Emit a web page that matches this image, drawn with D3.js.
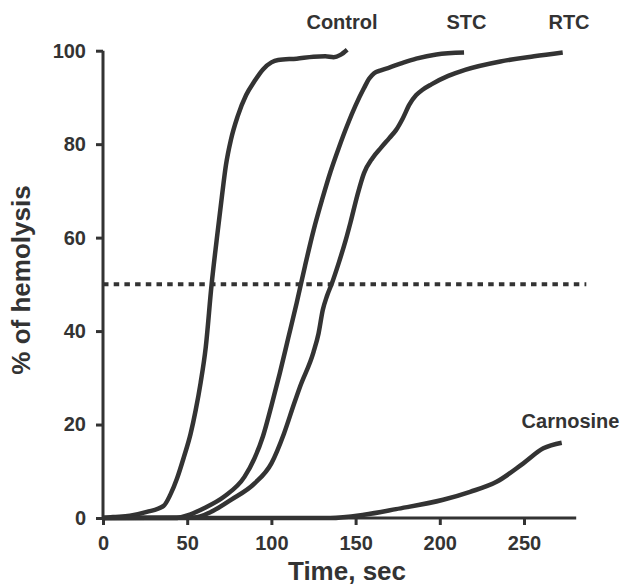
<!DOCTYPE html>
<html>
<head>
<meta charset="utf-8">
<script src="https://cdn.jsdelivr.net/npm/d3@7"></script>
<style>
  html, body { margin: 0; padding: 0; background: #fff; }
  svg { display: block; }
  text { font-family: "Liberation Sans", Arial, sans-serif; font-weight: bold; fill: #333; }
</style>
</head>
<body>
<svg id="chart" width="627" height="586"></svg>
<script>
// ---- Data (time in sec, % of hemolysis) ----
const controlT = [0, 6, 16, 26, 36, 40, 44, 48, 52, 55, 58, 61, 64.5, 67.5, 70.5, 73, 76, 80, 85, 90, 95, 100, 104, 115, 125, 132, 137, 141, 145];
const controlV = [0, 0.2, 0.5, 1.3, 2.6, 5, 8.5, 13, 18, 23, 29, 36.5, 50, 59.5, 68.5, 75.5, 81, 86, 90.5, 93.5, 96, 97.5, 98, 98.3, 98.7, 98.8, 98.6, 99.1, 100.2];

const stcT = [0, 42, 52, 60, 72, 84, 90, 95, 100, 105, 110, 115, 120, 125, 130, 135, 140, 145, 150, 155, 158, 161, 165, 170, 178, 186, 198, 214.4];
const stcV = [0, 0, 0.8, 2.1, 4.6, 8.8, 12.8, 17.5, 24, 31, 38.5, 46, 54, 61.5, 68, 74, 79.2, 84, 88.3, 92, 94, 95.2, 95.8, 96.4, 97.4, 98.3, 99.2, 99.6];

const rtcT = [0, 54, 64, 76, 90, 100, 107.5, 113.5, 117, 125, 128, 130.5, 133, 136, 140, 144, 147, 151, 155, 160, 165, 170, 174, 178, 182, 186, 190, 195, 205, 215, 236, 256, 273];
const rtcV = [0, 0.1, 1.3, 3.9, 7.4, 11.7, 18.1, 24.5, 28.1, 35.5, 39.5, 44.5, 47.5, 50.3, 54.6, 59.3, 63.3, 69, 73.8, 77, 79.2, 81.3, 83, 85.5, 88.5, 90.5, 91.7, 92.8, 94.6, 95.9, 97.7, 98.8, 99.6];

const carnT = [0, 135, 155, 174, 202, 218, 234, 249.6, 261.5, 272.4];
const carnV = [0, 0, 0.7, 1.9, 3.9, 5.6, 7.8, 11.7, 14.9, 16.1];

const seriesNames = ["Control", "STC", "RTC", "Carnosine"];
const xTicks = [0, 50, 100, 150, 200, 250];
const yTicks = [0, 20, 40, 60, 80, 100];
const refValue = 50;          // dotted 50% line
const refRange = [0, 287];    // time extent of dotted line
const xAxisMax = 281;         // end of x axis line (time units)

const xTitle = "Time, sec";
const yTitle = "% of hemolysis";

// ---- Layout ----
const svg = d3.select("#chart");
const ink = "#333";
const x = d3.scaleLinear().domain([0, 250]).range([103, 524]);
const y = d3.scaleLinear().domain([0, 100]).range([518, 50.7]);

// dotted reference line
svg.append("line")
  .attr("x1", x(refRange[0])).attr("x2", x(refRange[1]))
  .attr("y1", y(refValue)).attr("y2", y(refValue))
  .attr("stroke", ink).attr("stroke-width", 4)
  .attr("stroke-dasharray", "5.5,5.2");

// axes
const xAxis = d3.axisBottom(x).tickValues(xTicks).tickSize(7).tickPadding(11).tickFormat(d3.format("d"));
const yAxis = d3.axisLeft(y).tickValues(yTicks).tickSize(7).tickPadding(10).tickFormat(d3.format("d"));

const gx = svg.append("g").attr("transform", `translate(0,${y(0)})`).call(xAxis);
gx.select(".domain").attr("d", `M${x(0)},0H${x(xAxisMax)}`);
const gy = svg.append("g").attr("transform", `translate(${x(0)},0)`).call(yAxis);
gy.select(".domain").attr("d", `M0,${y(0)}V${y(100)}`);

[gx, gy].forEach(g => {
  g.select(".domain").attr("stroke", ink).attr("stroke-width", 3).attr("fill", "none");
  g.selectAll(".tick line").attr("stroke", ink).attr("stroke-width", 3);
  g.selectAll(".tick text").attr("fill", ink).style("font-size", "20px")
    .style("font-family", "'Liberation Sans', Arial, sans-serif").style("font-weight", "bold");
});

// curves
const line = d3.line().x(d => x(d[0])).y(d => y(d[1])).curve(d3.curveMonotoneX);
const seriesData = [
  d3.zip(controlT, controlV),
  d3.zip(stcT, stcV),
  d3.zip(rtcT, rtcV),
  d3.zip(carnT, carnV)
];
svg.append("g").selectAll("path").data(seriesData).join("path")
  .attr("d", line)
  .attr("fill", "none")
  .attr("stroke", ink)
  .attr("stroke-width", 4.5)
  .attr("stroke-linejoin", "round")
  .attr("stroke-linecap", "butt");

// series labels
const labelPos = [[342, 29], [466.5, 29], [569, 29], [570.5, 428]];
svg.append("g").selectAll("text").data(seriesNames).join("text")
  .attr("x", (d, i) => labelPos[i][0])
  .attr("y", (d, i) => labelPos[i][1])
  .attr("text-anchor", "middle")
  .style("font-size", "20px")
  .text(d => d);

// axis titles
svg.append("text")
  .attr("x", 347).attr("y", 580)
  .attr("text-anchor", "middle")
  .style("font-size", "26px")
  .text(xTitle);

svg.append("text")
  .attr("transform", "translate(30,280) rotate(-90)")
  .attr("text-anchor", "middle")
  .style("font-size", "26px")
  .text(yTitle);
</script>
</body>
</html>
